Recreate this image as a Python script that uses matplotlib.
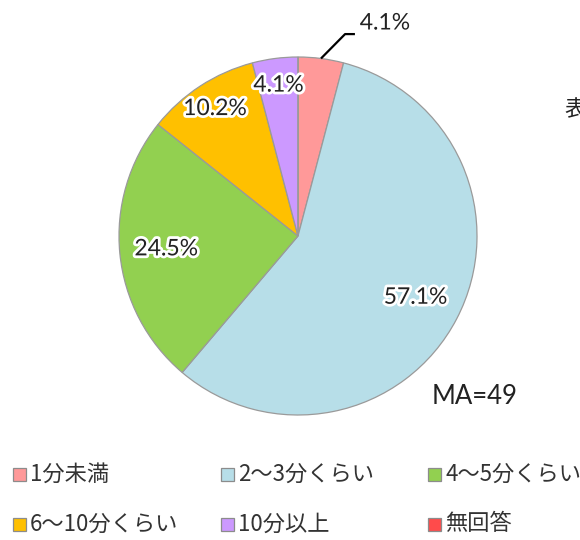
import numpy as np
import matplotlib
matplotlib.use("Agg")
import matplotlib.pyplot as plt
import matplotlib.patheffects as pe
from matplotlib.patches import Rectangle

plt.rcParams['font.family'] = ['Noto Sans CJK JP', 'DejaVu Sans']

categories = ["1分未満", "2～3分くらい", "4～5分くらい", "6～10分くらい", "10分以上", "無回答"]
values = [4.1, 57.1, 24.5, 10.2, 4.1, 0.0]
colors = ["#FF9999", "#B7DEE8", "#92D050", "#FFC000", "#CC99FF", "#FF4B4B"]
note = "MA=49"
side_text = "表"

W, H = 580, 540
fig = plt.figure(figsize=(W / 100, H / 100), dpi=100)

cx, cy, R = 298, 236, 179
ax = fig.add_axes([(cx - R) / W, 1 - (cy + R) / H, 2 * R / W, 2 * R / H])
wedges, _ = ax.pie(values, colors=colors, startangle=90, counterclock=False,
                   radius=1.0,
                   wedgeprops=dict(edgecolor="#9A9A9A", linewidth=0.9))
ax.set_xlim(-1, 1)
ax.set_ylim(-1, 1)
ax.set_aspect("equal")
ax.axis("off")

lab_font = ['Lato', 'DejaVu Sans']
stroke = [pe.withStroke(linewidth=4, foreground="white")]
for i, (w, v) in enumerate(zip(wedges, values)):
    if v <= 0:
        continue
    mid = np.deg2rad((w.theta1 + w.theta2) / 2)
    txt = f"{v:.1f}%"
    if i == 0:
        # outside label with leader line
        x0, y0 = np.cos(mid), np.sin(mid)
        ax.plot([x0, 0.263, 0.318], [y0, 1.128, 1.128], color="black",
                lw=1.6, clip_on=False, solid_capstyle="butt")
        ax.text(0.345, 1.19, txt, ha="left", va="center", fontsize=16.5,
                family=lab_font, color="#222222",
                clip_on=False, path_effects=stroke)
    else:
        r = 0.74 if v > 20 else 0.85
        ax.text(r * np.cos(mid), r * np.sin(mid), txt, ha="center",
                va="center", fontsize=16.5, family=lab_font, color="#222222",
                path_effects=stroke)

fig.text(432 / W, 1 - 396 / H, note, ha="left", va="center", fontsize=18.5,
         family=lab_font, color="#222222")
fig.text(564 / W, 1 - 110 / H, side_text, ha="left", va="center", fontsize=16,
         color="#222222")

# legend
col_x = [13, 221, 428]
row_y = [474, 524]
sq = 13
for i, (cat, col) in enumerate(zip(categories, colors)):
    x = col_x[i % 3]
    y = row_y[i // 3]
    fig.patches.append(Rectangle((x / W, 1 - (y + sq / 2) / H), sq / W, sq / H,
                                 transform=fig.transFigure, facecolor=col,
                                 edgecolor="#8C8C8C", linewidth=0.9))
    fig.text((x + sq + 4) / W, 1 - y / H, cat, ha="left", va="center",
             fontsize=16, color="#333333")

fig.savefig("out.png", dpi=100)
